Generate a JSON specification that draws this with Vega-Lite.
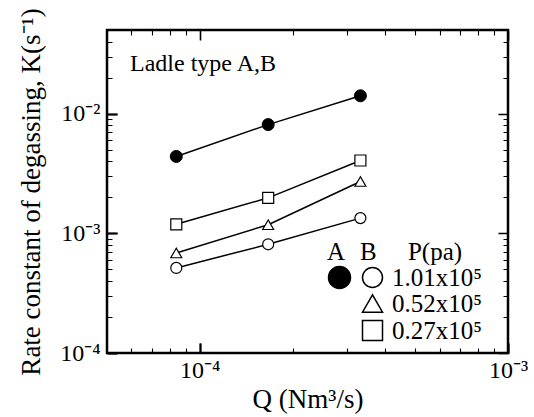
{
  "$schema": "https://vega.github.io/schema/vega-lite/v6.json",
  "width": 401,
  "height": 323,
  "autosize": {"type": "none"},
  "padding": {"left": 107, "top": 30, "right": 26, "bottom": 64},
  "background": "white",
  "config": {
    "view": {"stroke": "black", "strokeWidth": 2.5},
    "font": "Liberation Serif",
    "axis": {
      "domain": false,
      "labelColor": "black",
      "titleColor": "black",
      "labelFont": "Liberation Serif",
      "titleFont": "Liberation Serif",
      "labelFontSize": 24,
      "titleFontSize": 27,
      "titleFontWeight": "normal",
      "labelFlush": false,
      "labelOverlap": false
    },
    "legend": {
      "labelFont": "Liberation Serif",
      "titleFont": "Liberation Serif",
      "labelFontSize": 25,
      "titleFontSize": 25,
      "titleFontWeight": "normal",
      "labelColor": "black",
      "titleColor": "black",
      "padding": 0,
      "rowPadding": 0,
      "titlePadding": 0
    }
  },
  "title": {
    "text": "Ladle type A,B",
    "anchor": "start",
    "orient": "top",
    "frame": "group",
    "offset": -68,
    "dx": 23,
    "font": "Liberation Serif",
    "fontSize": 24,
    "fontWeight": "normal",
    "color": "black"
  },
  "data": {
    "values": [
      {"ladle": "A", "P": "1.01x10⁵", "Q": 0.0000839, "K": 0.00439},
      {"ladle": "A", "P": "1.01x10⁵", "Q": 0.0001667, "K": 0.0081},
      {"ladle": "A", "P": "1.01x10⁵", "Q": 0.000332, "K": 0.0141},
      {"ladle": "B", "P": "1.01x10⁵", "Q": 0.0000839, "K": 0.000514},
      {"ladle": "B", "P": "1.01x10⁵", "Q": 0.0001667, "K": 0.00081},
      {"ladle": "B", "P": "1.01x10⁵", "Q": 0.000332, "K": 0.00134},
      {"ladle": "B", "P": "0.52x10⁵", "Q": 0.0000839, "K": 0.000685},
      {"ladle": "B", "P": "0.52x10⁵", "Q": 0.0001667, "K": 0.00118},
      {"ladle": "B", "P": "0.52x10⁵", "Q": 0.000332, "K": 0.00271},
      {"ladle": "B", "P": "0.27x10⁵", "Q": 0.0000839, "K": 0.00119},
      {"ladle": "B", "P": "0.27x10⁵", "Q": 0.0001667, "K": 0.00198},
      {"ladle": "B", "P": "0.27x10⁵", "Q": 0.000332, "K": 0.00406}
    ]
  },
  "layer": [
    {
      "transform": [{"filter": "datum.ladle === 'A'"}],
      "mark": {"type": "line", "color": "black", "strokeWidth": 1.5},
      "encoding": {
        "x": {
          "field": "Q", "type": "quantitative",
          "scale": {"type": "log", "domain": [0.00005, 0.001], "nice": false},
          "axis": {
            "orient": "bottom", "values": [0.0001, 0.001],
            "labelExpr": "datum.value < 0.0005 ? '10⁻⁴' : '10⁻³'",
            "ticks": true, "tickColor": "#000000", "tickSize": -10, "tickWidth": 2,
            "grid": true, "gridColor": "#000000", "gridOpacity": 1, "gridWidth": 1.6, "gridDash": [10, 303, 10],
            "labelPadding": 15,
            "title": "Q (Nm³/s)", "titlePadding": 4
          }
        },
        "y": {
          "field": "K", "type": "quantitative",
          "scale": {"type": "log", "domain": [0.0001, 0.05], "nice": false},
          "axis": {
            "orient": "left", "values": [0.0001, 0.001, 0.01],
            "labelExpr": "datum.value < 0.0005 ? '10⁻⁴' : datum.value < 0.005 ? '10⁻³' : '10⁻²'",
            "ticks": true, "tickColor": "#000000", "tickSize": -10, "tickWidth": 2,
            "grid": true, "gridColor": "#000000", "gridOpacity": 1, "gridWidth": 1.6, "gridDash": [10, 381, 10],
            "labelPadding": 17,
            "title": "Rate constant of degassing, K(s⁻¹)", "titlePadding": 14
          }
        }
      }
    },
    {
      "transform": [{"filter": "datum.ladle === 'B'"}],
      "mark": {"type": "line", "color": "black", "strokeWidth": 1.5},
      "encoding": {
        "x": {
          "field": "Q", "type": "quantitative",
          "axis": {
            "orient": "bottom",
            "values": [0.00006, 0.00007, 0.00008, 0.00009, 0.0002, 0.0003, 0.0004, 0.0005, 0.0006, 0.0007, 0.0008, 0.0009],
            "labels": false, "ticks": false,
            "grid": true, "gridColor": "#000000", "gridOpacity": 1, "gridWidth": 1.1, "gridDash": [5, 313, 5],
            "title": null
          }
        },
        "y": {
          "field": "K", "type": "quantitative",
          "axis": {
            "orient": "left",
            "values": [0.0002, 0.0003, 0.0004, 0.0005, 0.0006, 0.0007, 0.0008, 0.0009, 0.002, 0.003, 0.004, 0.005, 0.006, 0.007, 0.008, 0.009, 0.02, 0.03, 0.04],
            "labels": false, "ticks": false,
            "grid": true, "gridColor": "#000000", "gridOpacity": 1, "gridWidth": 1.1, "gridDash": [5, 391, 5],
            "title": null
          }
        },
        "detail": {"field": "P", "type": "nominal"}
      }
    },
    {
      "transform": [{"filter": "datum.ladle === 'A'"}],
      "mark": {"type": "point", "filled": true, "shape": "circle", "size": 144, "stroke": "black", "strokeWidth": 1, "opacity": 1},
      "encoding": {
        "x": {"field": "Q", "type": "quantitative", "axis": null},
        "y": {"field": "K", "type": "quantitative", "axis": null},
        "fill": {
          "field": "ladle", "type": "nominal",
          "scale": {"domain": ["A"], "range": ["black"]},
          "legend": {
            "orient": "none", "legendX": 220, "legendY": 210,
            "title": "A", "labelExpr": "''",
            "symbolType": "circle", "symbolSize": 484,
            "labelOffset": 0
          }
        }
      }
    },
    {
      "transform": [{"filter": "datum.ladle === 'B'"}],
      "mark": {"type": "point", "filled": true, "fill": "white", "stroke": "black", "strokeWidth": 1.2, "size": 121, "opacity": 1},
      "encoding": {
        "x": {"field": "Q", "type": "quantitative", "axis": null},
        "y": {"field": "K", "type": "quantitative", "axis": null},
        "shape": {
          "field": "P", "type": "nominal",
          "scale": {"domain": ["1.01x10⁵", "0.52x10⁵", "0.27x10⁵"], "range": ["circle", "triangle-up", "square"]},
          "legend": {
            "orient": "none", "legendX": 253, "legendY": 210,
            "title": "B\u00a0\u00a0\u00a0\u00a0\u00a0P(pa)",
            "symbolSize": 400,
            "labelOffset": 7,
            "encode": {
              "symbols": {
                "update": {
                  "fill": {"value": "white"},
                  "stroke": {"value": "black"},
                  "strokeWidth": {"value": 1.2},
                  "opacity": {"value": 1}
                }
              }
            }
          }
        }
      }
    }
  ],
  "resolve": {"axis": {"x": "independent", "y": "independent"}}
}
